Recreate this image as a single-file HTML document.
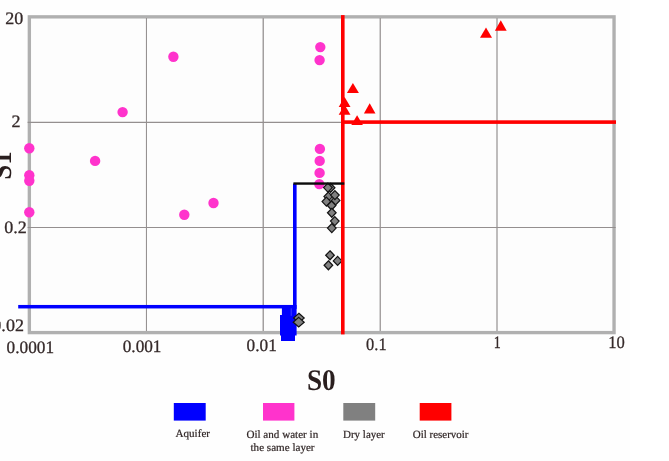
<!DOCTYPE html>
<html><head><meta charset="utf-8"><title>S0 - S1 crossplot</title>
<style>
html,body{margin:0;padding:0;background:#fff;}
body{width:669px;height:461px;overflow:hidden;position:relative;}
svg{position:absolute;left:0;top:0;display:block;}
text{font-family:"Liberation Serif","Times New Roman",serif;fill:#352a2a;text-rendering:geometricPrecision;}
.t{font-size:17.5px;stroke:#352a2a;stroke-width:0.3px;}
.l{font-size:11.1px;fill:#2e2424;stroke:#2e2424;stroke-width:0.2px;}
.b{font-weight:bold;fill:#2a1f1f;}
</style></head><body>
<svg width="669" height="461" viewBox="0 0 669 461">
<rect x="0" y="0" width="669" height="461" fill="#ffffff"/>
<rect x="0" y="0" width="630" height="461" fill="#fefefe"/>
<rect x="29.35" y="16.85" width="584.7" height="315.75" fill="#fdfdfd" stroke="#b0b0b0" stroke-width="3.35"/>
<g stroke="#948f8f">
<line x1="146.45" y1="18" x2="146.45" y2="331" stroke-width="1.05"/>
<line x1="263.25" y1="18" x2="263.25" y2="331" stroke-width="1.5" stroke="#a39f9f"/>
<line x1="380.25" y1="18" x2="380.25" y2="331" stroke-width="1.35" stroke="#9e9a9a"/>
<line x1="497" y1="18" x2="497" y2="331" stroke-width="1.4" stroke="#a3a0a0"/>
<line x1="27.6" y1="122.35" x2="615.7" y2="122.35" stroke-width="1.05"/>
<line x1="27.6" y1="227.45" x2="615.7" y2="227.45" stroke-width="1.05"/>
</g>

<g fill="#ff33cc">
<circle cx="122.6" cy="112.1" r="5.2"/>
<circle cx="29.3" cy="148.3" r="5.2"/>
<circle cx="95.1" cy="160.9" r="5.2"/>
<circle cx="29.3" cy="175.2" r="5.2"/>
<circle cx="29.3" cy="180.8" r="5.2"/>
<circle cx="29.3" cy="212.3" r="5.2"/>
<circle cx="173.4" cy="56.7" r="5.2"/>
<circle cx="320.3" cy="47.1" r="5.2"/>
<circle cx="319.6" cy="60.1" r="5.2"/>
<circle cx="319.9" cy="148.9" r="5.2"/>
<circle cx="319.7" cy="160.9" r="5.2"/>
<circle cx="319.6" cy="172.9" r="5.2"/>
<circle cx="319.3" cy="184.1" r="5.2"/>
<circle cx="184.3" cy="214.8" r="5.2"/>
<circle cx="213.5" cy="203.0" r="5.2"/>
</g>
<g fill="#0000ff">
<rect x="18.2" y="304.95" width="278.4" height="3.5"/>
<rect x="293" y="183.6" width="3.6" height="125"/>
<path d="M281.9 308 H296.6 V335.5 H295 V340.9 H281 V335.5 H280 V315 H281.9 Z"/>
<rect x="290.8" y="308.3" width="0.7" height="7.5" fill="#5a5aff"/>
</g>
<g fill="#808080" stroke="#141414" stroke-width="1.25">
<polygon points="330.6,183.3 334.9,187.8 330.6,192.3 326.3,187.8"/>
<polygon points="327.9,183.1 332.2,187.6 327.9,192.1 323.6,187.6"/>
<polygon points="328.3,192.1 332.6,196.6 328.3,201.1 324.0,196.6"/>
<polygon points="335.6,195.9 339.9,200.4 335.6,204.9 331.3,200.4"/>
<polygon points="334.9,190.6 339.2,195.1 334.9,199.6 330.6,195.1"/>
<polygon points="326.4,197.1 330.7,201.6 326.4,206.1 322.1,201.6"/>
<polygon points="331.6,201.0 335.9,205.5 331.6,210.0 327.3,205.5"/>
<polygon points="331.8,208.3 336.1,212.8 331.8,217.3 327.5,212.8"/>
<polygon points="334.8,216.6 339.1,221.1 334.8,225.6 330.5,221.1"/>
<polygon points="331.8,223.6 336.1,228.1 331.8,232.6 327.5,228.1"/>
<polygon points="330.0,250.8 334.3,255.3 330.0,259.8 325.7,255.3"/>
<polygon points="337.6,256.4 341.9,260.9 337.6,265.4 333.3,260.9"/>
<polygon points="328.4,260.8 332.7,265.3 328.4,269.8 324.1,265.3"/>
<polygon points="298.9,313.3 304.2,318.0 298.9,322.7 293.6,318.0" stroke-width="1.2" stroke="#111"/>
<polygon points="298.7,317.4 304.2,322.2 298.7,327.0 293.2,322.2" stroke-width="1.2" stroke="#111"/>
</g>
<g fill="#ff0000">
<rect x="341" y="15.1" width="3.6" height="319.3"/>
<rect x="343" y="120.3" width="273" height="3.6"/>
<polygon points="352.9,83.0 358.9,93.0 346.9,93.0"/>
<polygon points="344.6,96.9 350.5,106.9 338.7,106.9"/>
<polygon points="344.6,104.7 350.5,114.7 338.7,114.7"/>
<polygon points="369.7,103.3 375.5,113.4 363.9,113.4"/>
<polygon points="357.1,115.3 362.9,125.0 351.3,125.0"/>
<polygon points="486.0,27.6 492.0,37.7 480.0,37.7"/>
<polygon points="500.8,20.3 506.7,30.8 494.9,30.8"/>
</g>
<rect x="293.4" y="182.35" width="50.9" height="2.4" fill="#0c0c0c"/>
<text class="t" transform="translate(5.3,23.9) scale(1.030,1)" text-anchor="start">20</text>
<text class="t" transform="translate(11.5,126.8) scale(1.030,1)" text-anchor="start">2</text>
<text class="t" transform="translate(4.2,233.1) scale(1.030,1)" text-anchor="start">0.2</text>
<text class="t" transform="translate(23.9,331.0) scale(1.030,1)" text-anchor="end">0.02</text>
<text class="t" transform="translate(6.6,353.2) scale(0.985,1)" text-anchor="start">0.0001</text>
<text class="t" transform="translate(122.7,351.9) scale(0.985,1)" text-anchor="start">0.001</text>
<text class="t" transform="translate(246.6,351.0) scale(0.985,1)" text-anchor="start">0.01</text>
<text class="t" transform="translate(366.1,350.0) scale(0.936,1)" text-anchor="start">0.1</text>
<text class="t" transform="translate(493.8,348.4) scale(0.800,1)" text-anchor="start">1</text>
<text class="t" transform="translate(608.2,348.4) scale(0.946,1)" text-anchor="start">10</text>
<text class="b" font-size="30" transform="translate(306.9,390.2) scale(0.908,1)">S0</text>
<text class="b" font-size="30" transform="translate(10.6,179.7) rotate(-90) scale(0.9,1)">S1</text>
<rect x="173.8" y="403" width="31.9" height="17.6" fill="#0000ff"/>
<rect x="263" y="403" width="31.4" height="17.6" fill="#ff33cc"/>
<rect x="343.3" y="403" width="31.9" height="17.6" fill="#808080"/>
<rect x="419.7" y="403" width="31.7" height="17.6" fill="#ff0000"/>
<text class="l" transform="translate(175.5,437.0) scale(1.000,1)" text-anchor="start">Aquifer</text>
<text class="l" transform="translate(246.4,438.4) scale(1.000,1)" text-anchor="start">Oil and water in</text>
<text class="l" transform="translate(250.5,451.0) scale(1.000,1)" text-anchor="start">the same layer</text>
<text class="l" transform="translate(343.0,438.3) scale(0.990,1)" text-anchor="start">Dry layer</text>
<text class="l" transform="translate(412.7,438.3) scale(0.990,1)" text-anchor="start">Oil reservoir</text>
</svg></body></html>
